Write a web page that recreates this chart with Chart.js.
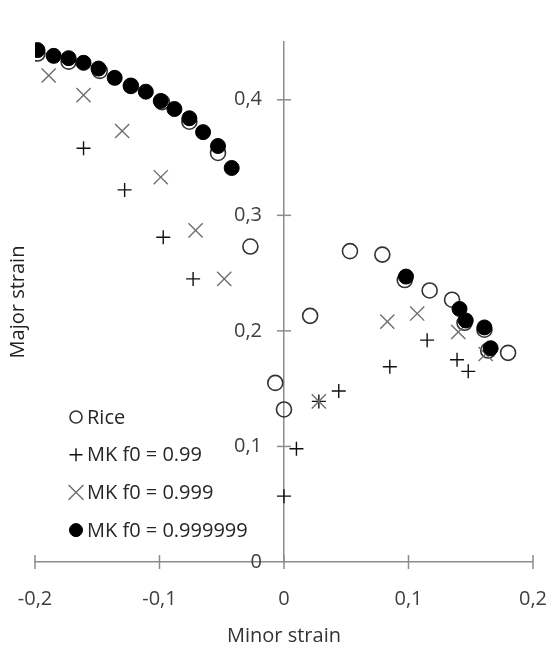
<!DOCTYPE html>
<html><head><meta charset="utf-8">
<script src="https://cdn.jsdelivr.net/npm/chart.js@4/dist/chart.umd.min.js"></script>
<style>html,body{margin:0;padding:0;background:#fff;} #wrap{width:547px;height:650px;position:relative;}</style>
</head><body><div id="wrap"><canvas id="c"></canvas></div>
<script>
const seriesNames = ['Rice', 'MK f0 = 0.99', 'MK f0 = 0.999', 'MK f0 = 0.999999'];

const riceX = [-0.198, -0.173, -0.148, -0.123, -0.098, -0.076, -0.053, -0.027, -0.007, 0.000, 0.021, 0.053, 0.079, 0.097, 0.117, 0.135, 0.145, 0.161, 0.164, 0.180];
const riceY = [0.440, 0.433, 0.425, 0.412, 0.398, 0.381, 0.354, 0.273, 0.155, 0.132, 0.213, 0.269, 0.266, 0.244, 0.235, 0.227, 0.207, 0.201, 0.183, 0.181];

const mk99X = [-0.161, -0.128, -0.097, -0.073, 0.000, 0.010, 0.028, 0.044, 0.085, 0.115, 0.139, 0.148];
const mk99Y = [0.358, 0.322, 0.281, 0.245, 0.057, 0.098, 0.139, 0.148, 0.169, 0.192, 0.175, 0.165];

const mk999X = [-0.189, -0.161, -0.130, -0.099, -0.071, -0.048, 0.028, 0.083, 0.107, 0.140, 0.162];
const mk999Y = [0.421, 0.404, 0.373, 0.333, 0.287, 0.245, 0.139, 0.208, 0.215, 0.199, 0.180];

const mk999999X = [-0.198, -0.185, -0.173, -0.161, -0.149, -0.136, -0.123, -0.111, -0.099, -0.088, -0.076, -0.065, -0.053, -0.042, 0.098, 0.141, 0.146, 0.161, 0.166];
const mk999999Y = [0.443, 0.438, 0.436, 0.432, 0.427, 0.419, 0.412, 0.407, 0.399, 0.392, 0.384, 0.372, 0.360, 0.341, 0.247, 0.219, 0.209, 0.203, 0.185];

const xTicks = [-0.2, -0.1, 0, 0.1, 0.2];
const yTicks = [0, 0.1, 0.2, 0.3, 0.4];

const FONT = '"Open Sans", "DejaVu Sans", sans-serif';
const AXIS_COLOR = '#8c8c8c';
const fmt = v => String(Math.round(v * 10) / 10).replace('.', ',');
const pts = (xs, ys) => xs.map((x, i) => ({x: x, y: ys[i]}));
const legendRadius = [6, 6.5, 10.5, 6.5];

const crossTicks = {
  id: 'crossTicks',
  beforeDatasetsDraw(chart) {
    const {ctx, scales} = chart;
    const x = scales.x, y = scales.y;
    const y0 = y.getPixelForValue(0), x0 = x.getPixelForValue(0);
    ctx.save();
    ctx.strokeStyle = AXIS_COLOR; ctx.lineWidth = 1.5;
    x.ticks.forEach(t => {
      const px = x.getPixelForValue(t.value);
      ctx.beginPath(); ctx.moveTo(px, y0 - 7); ctx.lineTo(px, y0 + 7); ctx.stroke();
    });
    y.ticks.forEach(t => {
      if (t.value === 0) return;
      const py = y.getPixelForValue(t.value);
      ctx.beginPath(); ctx.moveTo(x0 - 7, py); ctx.lineTo(x0 + 7, py); ctx.stroke();
    });
    ctx.restore();
  }
};

const insideLegend = {
  id: 'insideLegend',
  afterDraw(chart) {
    const {ctx, chartArea} = chart;
    const mx = chartArea.left + 41;
    const top = chartArea.bottom - 145;
    const gap = 37.7;
    chart.data.datasets.forEach((ds, i) => {
      const cy = top + i * gap;
      ctx.save();
      ctx.strokeStyle = ds.borderColor;
      ctx.fillStyle = ds.backgroundColor;
      ctx.lineWidth = ds.borderWidth;
      Chart.helpers.drawPoint(ctx, {pointStyle: ds.pointStyle, radius: legendRadius[i], borderWidth: ds.borderWidth, rotation: 0}, mx, cy);
      ctx.restore();
      ctx.save();
      ctx.fillStyle = '#262626';
      ctx.font = '20px ' + FONT;
      ctx.textBaseline = 'middle';
      ctx.textAlign = 'left';
      ctx.fillText(ds.label, mx + 11, cy + 1);
      ctx.restore();
    });
  }
};

new Chart(document.getElementById('c'), {
  type: 'scatter',
  data: {
    datasets: [
      {label: seriesNames[0], data: pts(riceX, riceY), pointStyle: 'circle', pointRadius: 7.5, pointHoverRadius: 7.5,
       borderColor: '#333333', backgroundColor: 'rgba(0,0,0,0)', borderWidth: 1.6, order: 4},
      {label: seriesNames[1], data: pts(mk99X, mk99Y), pointStyle: 'cross', pointRadius: 7, pointHoverRadius: 7,
       borderColor: '#111111', backgroundColor: '#111111', borderWidth: 1.4, order: 3},
      {label: seriesNames[2], data: pts(mk999X, mk999Y), pointStyle: 'crossRot', pointRadius: 10, pointHoverRadius: 10,
       borderColor: '#6e6e6e', backgroundColor: '#6e6e6e', borderWidth: 1.4, order: 2},
      {label: seriesNames[3], data: pts(mk999999X, mk999999Y), pointStyle: 'circle', pointRadius: 7.5, pointHoverRadius: 7.5,
       borderColor: '#000000', backgroundColor: '#000000', borderWidth: 1, order: 1}
    ]
  },
  options: {
    responsive: true,
    maintainAspectRatio: false,
    animation: false,
    events: [],
    layout: {padding: {left: 0, right: 14, top: 42, bottom: 0}},
    plugins: {legend: {display: false}, tooltip: {enabled: false}},
    scales: {
      x: {
        type: 'linear', position: 'bottom', min: -0.2, max: 0.2,
        afterBuildTicks: s => { s.ticks = xTicks.map(v => ({value: v})); },
        afterFit: s => { s.height = 88; },
        ticks: {callback: v => fmt(v), font: {family: FONT, size: 20}, color: '#404040', padding: 0, maxRotation: 0, autoSkip: false},
        grid: {display: false, drawTicks: true, tickLength: 25},
        border: {display: true, color: AXIS_COLOR, width: 1.5},
        title: {display: true, text: 'Minor strain', font: {family: FONT, size: 20}, color: '#333333', padding: {top: 13, bottom: 2}}
      },
      y: {
        type: 'linear', position: 'center', min: 0, max: 0.45,
        afterBuildTicks: s => { s.ticks = yTicks.map(v => ({value: v})); },
        ticks: {callback: v => fmt(v), font: {family: FONT, size: 20}, color: '#404040', padding: 22, autoSkip: false},
        grid: {display: false, drawTicks: false},
        border: {display: true, color: AXIS_COLOR, width: 1.5}
      },
      yt: {
        type: 'linear', position: 'left', axis: 'y', min: 0, max: 1,
        afterFit: s => { s.width = 35; },
        ticks: {display: false},
        grid: {display: false, drawTicks: false},
        border: {display: false},
        title: {display: true, text: 'Major strain', font: {family: FONT, size: 20}, color: '#222222', padding: {top: 6, bottom: 5}}
      }
    }
  },
  plugins: [crossTicks, insideLegend]
});
</script>
</body></html>
